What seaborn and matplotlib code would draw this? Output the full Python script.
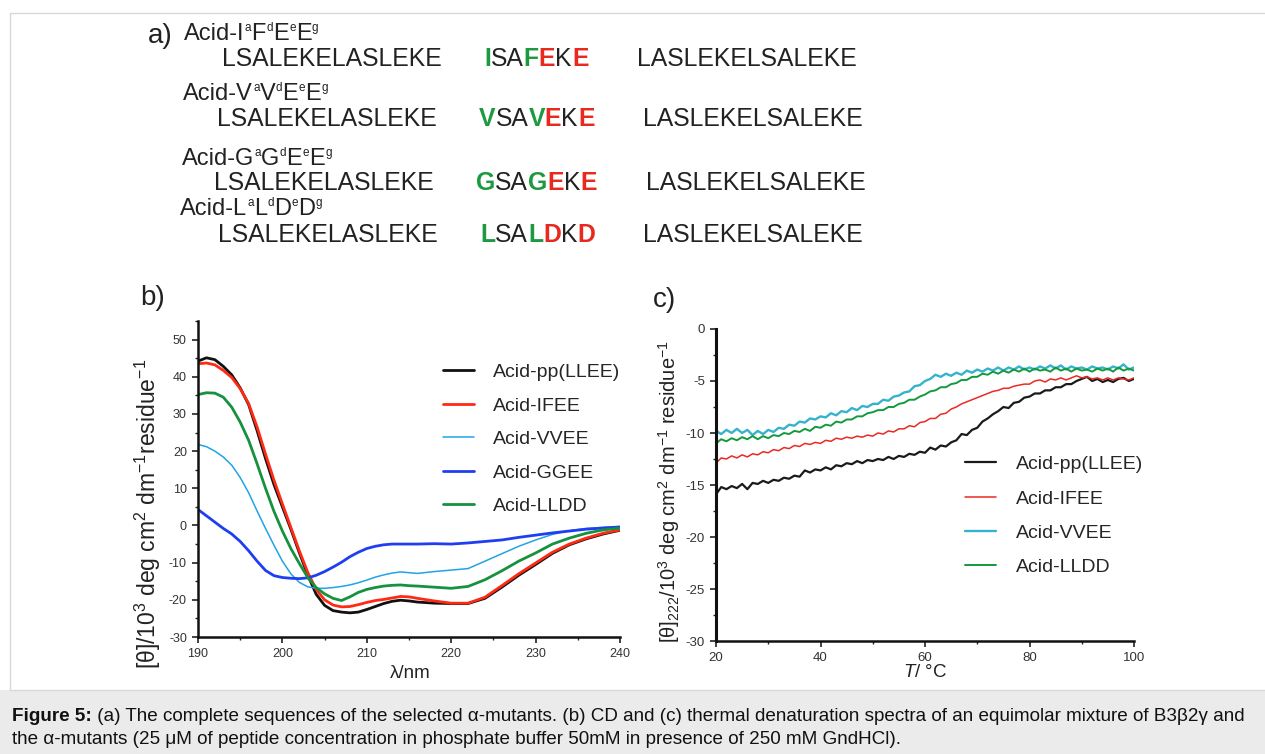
import numpy as np
import pandas as pd
import matplotlib
matplotlib.use("Agg")
import matplotlib.pyplot as plt
from matplotlib.patches import Rectangle
from matplotlib.ticker import MultipleLocator
import seaborn as sns

# ---------------- data ----------------
# panel a: sequences (text, is_superscript)
seq_headers = [
    [("Acid-I", 0), ("a", 1), ("F", 0), ("d", 1), ("E", 0), ("e", 1), ("E", 0), ("g", 1)],
    [("Acid-V", 0), ("a", 1), ("V", 0), ("d", 1), ("E", 0), ("e", 1), ("E", 0), ("g", 1)],
    [("Acid-G", 0), ("a", 1), ("G", 0), ("d", 1), ("E", 0), ("e", 1), ("E", 0), ("g", 1)],
    [("Acid-L", 0), ("a", 1), ("L", 0), ("d", 1), ("D", 0), ("e", 1), ("D", 0), ("g", 1)],
]
seq_left = "LSALEKELASLEKE"
seq_right = "LASLEKELSALEKE"
seq_mid = [
    [("I", "g"), ("SA", "k"), ("F", "g"), ("E", "r"), ("K", "k"), ("E", "r")],
    [("V", "g"), ("SA", "k"), ("V", "g"), ("E", "r"), ("K", "k"), ("E", "r")],
    [("G", "g"), ("SA", "k"), ("G", "g"), ("E", "r"), ("K", "k"), ("E", "r")],
    [("L", "g"), ("SA", "k"), ("L", "g"), ("D", "r"), ("K", "k"), ("D", "r")],
]

# panel b: CD spectra
wl = [190, 191, 192, 193, 194, 195, 196, 197, 198, 199, 200, 201, 202, 203, 204,
      205, 206, 207, 208, 209, 210, 211, 212, 213, 214, 215, 216, 218, 220, 222,
      224, 226, 228, 230, 232, 234, 236, 238, 240]
cd_pp = [44.2, 45.1, 44.6, 42.8, 40.5, 37.0, 32.5, 25.5, 18.0, 11.0, 5.0, -1.0, -7.3, -13.3, -18.5,
         -21.5, -22.9, -23.3, -23.5, -23.3, -22.6, -21.8, -21.0, -20.4, -20.1, -20.3, -20.6, -20.9, -21.0, -21.0,
         -19.6, -16.6, -13.4, -10.5, -7.5, -5.2, -3.6, -2.3, -1.3]
cd_ifee = [43.5, 43.7, 43.2, 41.7, 39.8, 36.8, 32.8, 26.5, 19.2, 12.2, 5.8, -0.5, -6.8, -12.6, -17.2,
           -20.0, -21.4, -21.9, -21.8, -21.3, -20.7, -20.2, -19.9, -19.5, -19.1, -19.2, -19.6, -20.3, -20.9, -20.9,
           -19.3, -16.2, -13.0, -10.1, -7.2, -5.0, -3.4, -2.1, -1.2]
cd_vvee = [21.8, 21.2, 20.0, 18.4, 16.2, 12.9, 8.8, 3.9, -0.8, -5.3, -9.6, -13.0, -15.3, -16.5, -16.9,
           -16.9, -16.7, -16.4, -16.0, -15.4, -14.7, -13.9, -13.3, -12.8, -12.5, -12.7, -12.9, -12.4, -12.0, -11.6,
           -9.6, -7.6, -5.6, -3.9, -2.4, -1.4, -0.8, -0.5, -0.3]
cd_ggee = [4.3, 2.6, 0.9, -0.8, -2.3, -4.3, -6.8, -9.6, -12.1, -13.5, -14.0, -14.2, -14.3, -14.1, -13.4,
           -12.4, -11.2, -9.9, -8.4, -7.2, -6.2, -5.6, -5.2, -5.0, -5.0, -5.0, -5.0, -4.9, -5.0, -4.7,
           -4.3, -3.9, -3.2, -2.6, -2.0, -1.5, -1.0, -0.7, -0.4]
cd_lldd = [35.2, 35.7, 35.6, 34.5, 31.8, 27.8, 22.9, 16.6, 10.0, 3.8, -1.5, -6.2, -10.2, -14.0, -16.7,
           -18.4, -19.6, -20.2, -19.2, -18.0, -17.2, -16.7, -16.3, -16.1, -16.0, -16.2, -16.3, -16.6, -16.9, -16.4,
           -14.6, -12.2, -9.6, -7.4, -5.0, -3.4, -2.1, -1.2, -0.7]

# panel c: thermal denaturation at 222 nm
temp = list(range(20, 101))
td_pp = [-15.9, -15.2, -15.4, -15.1, -15.3, -14.9, -15.4, -14.8, -14.9, -14.6,
         -14.8, -14.5, -14.6, -14.3, -14.4, -14.1, -14.2, -13.6, -13.8, -13.5,
         -13.6, -13.3, -13.5, -13.1, -13.2, -12.9, -13.0, -12.7, -12.9, -12.6,
         -12.7, -12.5, -12.6, -12.3, -12.5, -12.2, -12.3, -12.0, -12.1, -11.8,
         -11.9, -11.4, -11.6, -11.2, -11.3, -10.9, -10.7, -10.1, -10.2, -9.7,
         -9.5, -8.9, -8.6, -8.2, -7.9, -7.5, -7.6, -7.1, -7.0, -6.6,
         -6.5, -6.2, -6.2, -5.9, -5.9, -5.6, -5.6, -5.3, -5.3, -5.0,
         -4.8, -4.6, -5.0, -4.8, -5.1, -4.9, -5.1, -4.8, -4.7, -5.0, -4.8]
td_ifee = [-12.9, -12.4, -12.5, -12.2, -12.4, -12.1, -12.3, -12.0, -12.1, -11.8,
           -11.9, -11.6, -11.7, -11.4, -11.5, -11.2, -11.3, -11.0, -11.1, -10.9,
           -11.0, -10.7, -10.8, -10.5, -10.6, -10.4, -10.5, -10.3, -10.4, -10.2,
           -10.3, -10.0, -10.1, -9.8, -9.9, -9.6, -9.6, -9.3, -9.4, -9.0,
           -8.9, -8.6, -8.6, -8.2, -8.1, -7.7, -7.5, -7.2, -7.0, -6.8,
           -6.6, -6.4, -6.2, -6.0, -5.9, -5.7, -5.7, -5.5, -5.4, -5.3,
           -5.3, -5.0, -4.9, -5.1, -4.8, -4.9, -4.7, -4.9, -4.7, -4.5,
           -4.7, -4.6, -4.8, -4.7, -4.9, -4.7, -4.9, -4.7, -4.8, -4.9, -4.7]
td_vvee = [-9.8, -10.1, -9.7, -10.0, -9.6, -10.0, -9.7, -10.2, -9.8, -10.1,
           -9.7, -9.9, -9.5, -9.6, -9.2, -9.3, -8.9, -9.0, -8.6, -8.7,
           -8.4, -8.5, -8.1, -8.3, -7.9, -8.0, -7.6, -7.8, -7.4, -7.5,
           -7.2, -7.2, -6.8, -6.9, -6.5, -6.4, -6.1, -6.0, -5.5, -5.4,
           -5.0, -4.8, -4.4, -4.6, -4.3, -4.5, -4.2, -4.4, -4.0, -4.2,
           -3.9, -4.1, -3.8, -4.0, -3.7, -4.0, -3.7, -3.9, -3.6, -3.9,
           -3.7, -3.9, -3.6, -3.8, -3.5, -3.8, -3.5, -3.9, -3.6, -3.8,
           -3.7, -3.9, -3.6, -3.8, -3.7, -3.9, -3.6, -3.8, -3.4, -3.9, -3.7]
td_lldd = [-11.0, -10.6, -10.8, -10.5, -10.7, -10.4, -10.6, -10.3, -10.6, -10.3,
           -10.5, -10.2, -10.3, -10.0, -10.1, -9.8, -9.9, -9.6, -9.8, -9.4,
           -9.5, -9.2, -9.3, -8.9, -9.0, -8.7, -8.7, -8.4, -8.4, -8.1,
           -8.0, -7.8, -7.8, -7.5, -7.5, -7.2, -7.1, -6.8, -6.8, -6.5,
           -6.3, -6.0, -5.9, -5.6, -5.6, -5.3, -5.2, -4.9, -4.9, -4.6,
           -4.6, -4.3, -4.4, -4.1, -4.3, -4.0, -4.2, -3.9, -4.1, -3.8,
           -4.1, -3.8, -4.0, -3.9, -4.1, -3.7, -4.0, -3.8, -4.1, -3.8,
           -4.0, -3.9, -4.1, -3.8, -4.0, -3.8, -4.1, -3.7, -4.0, -3.8, -4.0]

caption_bold = "Figure 5:"
caption_l1 = (" (a) The complete sequences of the selected \u03b1-mutants. (b) CD and (c) thermal "
              "denaturation spectra of an equimolar mixture of B3\u03b22\u03b3 and")
caption_l2 = ("the \u03b1-mutants (25 \u03bcM of peptide concentration in phosphate buffer 50mM in "
              "presence of 250 mM GndHCl).")

# ---------------- style ----------------
sns.set_theme(style="ticks")
plt.rcParams["font.family"] = ["Liberation Sans", "DejaVu Sans"]
plt.rcParams["mathtext.fontset"] = "custom"
plt.rcParams["mathtext.rm"] = "Liberation Sans"
plt.rcParams["mathtext.it"] = "Liberation Sans:italic"
plt.rcParams["mathtext.bf"] = "Liberation Sans:bold"
plt.rcParams["axes.unicode_minus"] = False

W, H = 1265, 754
fig = plt.figure(figsize=(W / 100, H / 100), dpi=100)
fig.patch.set_facecolor("white")

COL = {"g": "#1c9a40", "r": "#e8291f", "k": "#222222"}

# overlay axes in pixel coordinates
ax0 = fig.add_axes([0, 0, 1, 1])
ax0.set_xlim(0, W)
ax0.set_ylim(H, 0)
ax0.axis("off")
ax0.add_patch(Rectangle((0, 690), W, 64, color="#ebebeb", lw=0, zorder=0))
ax0.add_patch(Rectangle((9.5, 12.5), W - 9, 677, fill=False, ec="#d8d8d8", lw=1.0, zorder=0))

# caption
CFS = 13.6
t = ax0.text(12, 721, caption_bold, fontsize=CFS, fontweight="bold", color="#111111", va="baseline")
ax0.annotate(caption_l1, xycoords=t, xy=(1, 0), va="bottom", fontsize=CFS, color="#111111")
ax0.text(12, 744, caption_l2, fontsize=CFS, color="#111111", va="baseline")

# panel a
ax0.text(160, 36, "a)", fontsize=20, color="#222222", ha="center", va="center")
head_pos = [(184, 32), (183, 92), (182, 157), (180, 207)]
row_y = [57, 117, 181, 233]
left_x = [222, 217, 214, 218]
mid_x = [484, 479, 476, 480]
right_x = [637, 643, 646, 643]
FS = 17.8
HFS = 17.0
for i in range(4):
    pieces = seq_headers[i]
    base = ax0.text(head_pos[i][0], head_pos[i][1] + 8, pieces[0][0], fontsize=HFS,
                    color="#222222", va="baseline", ha="left")
    prev = base
    for s, sup in pieces[1:]:
        if sup:
            prev = ax0.annotate(s, xycoords=prev, xy=(1, 1), va="top", fontsize=8.5,
                                xytext=(0.2, 0.5), textcoords="offset points", color="#222222")
        else:
            prev = ax0.annotate(s, xycoords=(prev, base), xy=(1, 0), va="bottom", fontsize=HFS,
                                xytext=(0.2, 0), textcoords="offset points", color="#222222")
            base = prev
    b0 = row_y[i] + 8.5
    ax0.text(left_x[i], b0, seq_left, fontsize=FS, color="#222222", va="baseline")
    ax0.text(right_x[i], b0, seq_right, fontsize=FS, color="#222222", va="baseline")
    prev = None
    for s, c in seq_mid[i]:
        w = "normal" if c == "k" else "bold"
        if prev is None:
            prev = ax0.text(mid_x[i], b0, s, fontsize=FS, color=COL[c], fontweight=w, va="baseline")
        else:
            prev = ax0.annotate(s, xycoords=prev, xy=(1, 0), va="bottom", fontsize=FS,
                                color=COL[c], fontweight=w)

# panel labels
ax0.text(153, 298, "b)", fontsize=20, color="#222222", ha="center", va="center")
ax0.text(665, 300, "c)", fontsize=20, color="#222222", ha="center", va="center")


def style_axes(ax):
    for s in ["top", "right"]:
        ax.spines[s].set_visible(False)
    for s in ["left", "bottom"]:
        ax.spines[s].set_linewidth(1.8)
        ax.spines[s].set_color("#111111")
    ax.tick_params(which="major", direction="out", length=4, width=1.2, labelsize=9,
                   labelcolor="#333333", color="#222222", pad=4)
    ax.tick_params(which="minor", direction="out", length=2.5, width=1.0, color="#222222")
    ax.grid(False)
    ax.set_facecolor("none")


# ---------------- panel b ----------------
axb = fig.add_axes([198 / W, 1 - 637 / H, 422 / W, 316 / H])
b_series = [("Acid-pp(LLEE)", cd_pp, "#111111", 2.0),
            ("Acid-IFEE", cd_ifee, "#ff2a14", 2.0),
            ("Acid-VVEE", cd_vvee, "#21a3e6", 1.1),
            ("Acid-GGEE", cd_ggee, "#1f3ef2", 2.0),
            ("Acid-LLDD", cd_lldd, "#16913e", 2.0)]
for name, vals, col, lw in b_series:
    df = pd.DataFrame({"wl": wl, "v": vals})
    sns.lineplot(data=df, x="wl", y="v", ax=axb, color=col, lw=lw, label=name)
axb.set_xlim(190, 240)
axb.set_ylim(-30, 55)
axb.set_xticks([190, 200, 210, 220, 230, 240])
axb.set_yticks([-30, -20, -10, 0, 10, 20, 30, 40, 50])
axb.xaxis.set_minor_locator(MultipleLocator(5))
axb.yaxis.set_minor_locator(MultipleLocator(5))
style_axes(axb)
axb.set_xlabel("\u03bb/nm", fontsize=13.5, color="#222222")
axb.xaxis.set_label_coords(0.502, -0.088)
axb.set_ylabel("[\u03b8]/10$^3$ deg cm$^2$ dm$^{-1}$residue$^{-1}$", fontsize=16.5, color="#222222")
axb.yaxis.set_label_coords(-0.083, 0.39)
h, l = axb.get_legend_handles_labels()
axb.legend(h, l, loc="upper left", bbox_to_anchor=(0.58, 0.866), frameon=False, fontsize=14,
           handlelength=1.6, handletextpad=1.0, labelspacing=0.82, borderpad=0, borderaxespad=0)

# ---------------- panel c ----------------
axc = fig.add_axes([716 / W, 1 - 641 / H, 418 / W, 312 / H])
c_series = [("Acid-pp(LLEE)", td_pp, "#1a1a1a", 1.6),
            ("Acid-IFEE", td_ifee, "#ea2a22", 1.1),
            ("Acid-VVEE", td_vvee, "#35b3cc", 1.7),
            ("Acid-LLDD", td_lldd, "#129a3e", 1.4)]
for name, vals, col, lw in c_series:
    df = pd.DataFrame({"T": temp, "v": vals})
    sns.lineplot(data=df, x="T", y="v", ax=axc, color=col, lw=lw, label=name)
axc.set_xlim(20, 100)
axc.set_ylim(-30, 0)
axc.set_xticks([20, 40, 60, 80, 100])
axc.set_yticks([-30, -25, -20, -15, -10, -5, 0])
axc.xaxis.set_minor_locator(MultipleLocator(10))
axc.yaxis.set_minor_locator(MultipleLocator(2.5))
style_axes(axc)
axc.spines["left"].set_linewidth(2.2)
axc.tick_params(which="major", labelsize=9.5)
axc.set_xlabel("$\\mathit{T}$/ \u00b0C", fontsize=13.5, color="#222222")
axc.xaxis.set_label_coords(0.5, -0.074)
axc.set_ylabel("[\u03b8]$_{222}$/10$^3$ deg cm$^2$ dm$^{-1}$ residue$^{-1}$", fontsize=14.5, color="#222222")
axc.yaxis.set_label_coords(-0.081, 0.48)
h, l = axc.get_legend_handles_labels()
axc.legend(h, l, loc="upper left", bbox_to_anchor=(0.596, 0.594), frameon=False, fontsize=14,
           handlelength=1.6, handletextpad=1.0, labelspacing=0.86, borderpad=0, borderaxespad=0)

fig.savefig("out.png", dpi=100)
